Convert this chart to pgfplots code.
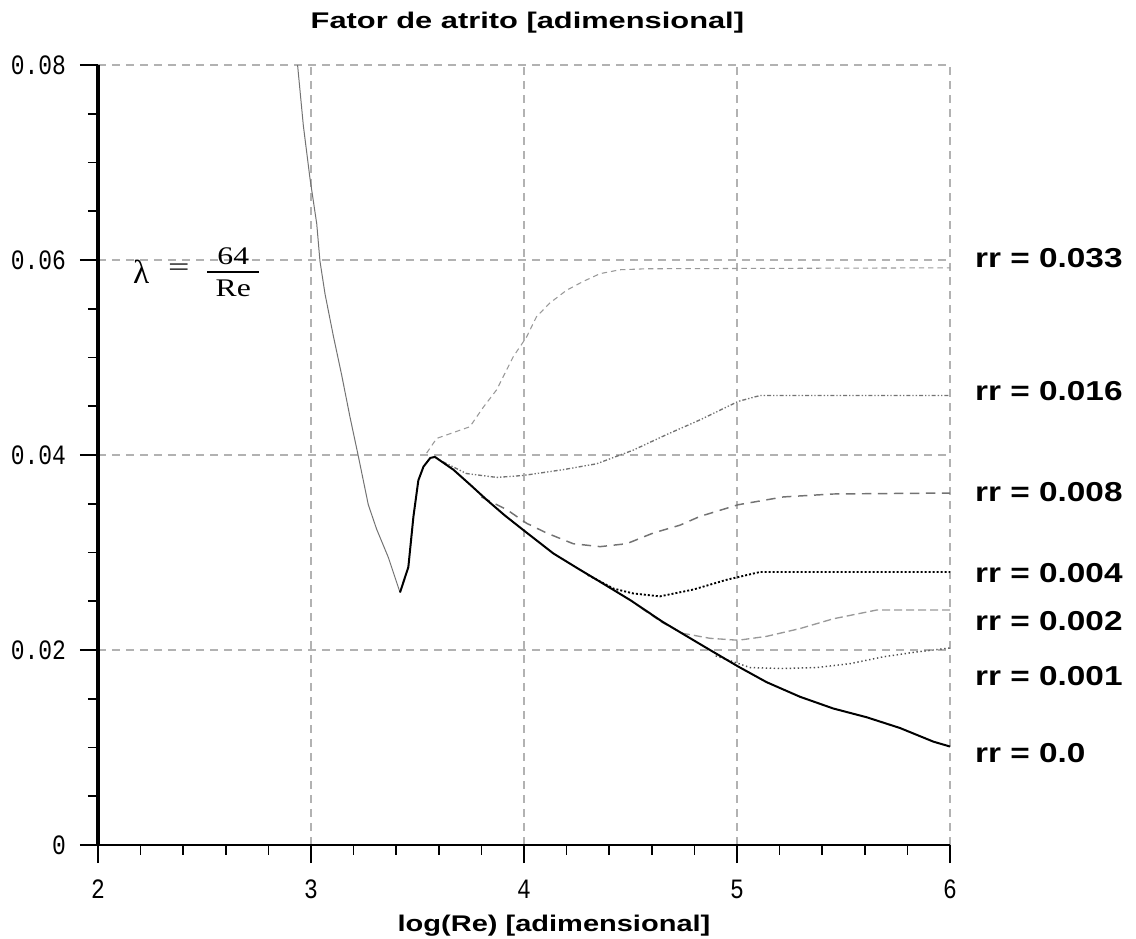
\documentclass[border=0pt]{standalone}
\usepackage{pgfplots}
\pgfplotsset{compat=1.18}
\usepackage{graphicx}
\usepackage{fontspec}
\setmainfont{Liberation Sans}
\newfontfamily\monofont{Liberation Mono}
\newfontfamily\seriffont{Liberation Serif}
\newcommand\tl[1]{\scalebox{0.82}[1]{#1}}
\begin{document}
\begin{tikzpicture}
\begin{axis}[
  at={(0,0)}, anchor=south west,
  scale only axis,
  width=639pt, height=585pt,
  xmin=2, xmax=6, ymin=0, ymax=0.08,
  axis lines=left,
  axis line style={-},
  x axis line style={line width=1.1pt},
  y axis line style={line width=2.3pt},
  tick align=outside,
  major tick length=13.5pt,
  minor tick length=7.5pt,
  every tick/.style={black, line width=1.2pt},
  xtick={2,3,4,5,6},
  xticklabels={\tl{2},\tl{3},\tl{4},\tl{5},\tl{6}},
  minor x tick num=4,
  ytick={0,0.02,0.04,0.06,0.08},
  yticklabels={\tl{0},\tl{0.02},\tl{0.04},\tl{0.06},\tl{0.08}},
  minor y tick num=3,
  scaled y ticks=false,
  tick label style={font=\fontsize{21}{24}\monofont},
  yticklabel style={xshift=-7pt},
  xticklabel style={yshift=-9pt},
  grid=major,
  grid style={black!30, line width=1pt, dash pattern=on 6pt off 4.5pt},
  clip=false,
]
% laminar branch
\addplot[black!55, line width=0.75pt] coordinates {
(2.937,0.0800) (2.964,0.0738) (2.995,0.0684) (3.027,0.0637) (3.042,0.0599)
(3.066,0.0565) (3.105,0.0522) (3.144,0.0482) (3.183,0.0439) (3.222,0.0399)
(3.269,0.0349) (3.308,0.0324) (3.363,0.0295) (3.418,0.0259)
};
% rr = 0.033
\addplot[black!40, line width=0.8pt, dash pattern=on 4pt off 3pt] coordinates {
(3.543,0.0402) (3.590,0.0417) (3.668,0.0423) (3.746,0.0429) (3.809,0.0449)
(3.872,0.0467) (3.950,0.0501) (4.012,0.0521) (4.059,0.0542) (4.122,0.0556)
(4.200,0.0569) (4.278,0.0578) (4.357,0.0586) (4.451,0.0590) (4.576,0.0591)
(6.000,0.0592)
};
% rr = 0.016
\addplot[black!55, line width=1pt, dash pattern=on 3pt off 1.5pt on 1pt off 1.5pt on 1pt off 1.5pt] coordinates {
(3.620,0.0393) (3.730,0.0381) (3.872,0.0377) (3.997,0.0379) (4.185,0.0385)
(4.341,0.0391) (4.513,0.0405) (4.670,0.0421) (4.826,0.0436) (5.006,0.0455)
(5.108,0.0461) (6.000,0.0461)
};
% rr = 0.008
\addplot[black!55, line width=1.1pt, dash pattern=on 7pt off 5pt] coordinates {
(3.800,0.0357) (3.919,0.0344) (4.012,0.0330) (4.106,0.0320) (4.231,0.0309)
(4.357,0.0306) (4.482,0.0309) (4.607,0.0320) (4.732,0.0328) (4.826,0.0337)
(5.006,0.0349) (5.218,0.0357) (5.452,0.0360) (6.000,0.0361)
};
% rr = 0.004
\addplot[black, line width=1.4pt, dash pattern=on 1.5pt off 1.5pt] coordinates {
(4.300,0.0277) (4.420,0.0263) (4.513,0.0258) (4.638,0.0255) (4.795,0.0262)
(4.951,0.0272) (5.108,0.0280) (6.000,0.0280)
};
% rr = 0.002
\addplot[black!40, line width=1pt, dash pattern=on 6pt off 3pt] coordinates {
(4.550,0.0243) (4.650,0.0228) (4.748,0.0217) (4.873,0.0212) (5.006,0.0210)
(5.139,0.0214) (5.296,0.0222) (5.452,0.0232) (5.656,0.0241) (6.000,0.0241)
};
% rr = 0.001
\addplot[black!70, line width=1.1pt, dash pattern=on 1pt off 2pt] coordinates {
(4.900,0.0194) (4.982,0.0188) (5.061,0.0182) (5.218,0.0181) (5.374,0.0182)
(5.531,0.0186) (5.687,0.0193) (5.843,0.0198) (6.000,0.0202)
};
% rr = 0 (smooth pipe) incl. transition
\addplot[black, line width=1.5pt] coordinates {
(3.418,0.0259) (3.457,0.0285) (3.481,0.0337) (3.504,0.0374) (3.528,0.0388)
(3.560,0.0397) (3.582,0.0398) (3.668,0.0385) (3.750,0.0369) (3.825,0.0354)
(3.910,0.0338) (3.997,0.0323) (4.138,0.0299) (4.250,0.0284) (4.357,0.0270)
(4.500,0.0251) (4.650,0.0229) (4.850,0.0203) (5.006,0.0183) (5.139,0.0167)
(5.296,0.0152) (5.452,0.0140) (5.609,0.0131) (5.765,0.0120) (5.922,0.0106)
(6.000,0.0101)
};
% labels
\node[anchor=base] at (axis cs:4.016,0.08379) {\scalebox{1.36}[1]{\fontsize{17}{20}\selectfont\bfseries Fator de atrito [adimensional]}};
\node[anchor=base] at (axis cs:4.141,-0.00889) {\scalebox{1.28}[1]{\fontsize{17}{20}\selectfont\bfseries log(Re) [adimensional]}};
\node[anchor=base west, inner sep=0pt] at (axis cs:6.117,0.05918) {\scalebox{1.22}[1]{\fontsize{20.5}{24}\selectfont\bfseries rr = 0.033}};
\node[anchor=base west, inner sep=0pt] at (axis cs:6.117,0.04564) {\scalebox{1.22}[1]{\fontsize{20.5}{24}\selectfont\bfseries rr = 0.016}};
\node[anchor=base west, inner sep=0pt] at (axis cs:6.117,0.03518) {\scalebox{1.22}[1]{\fontsize{20.5}{24}\selectfont\bfseries rr = 0.008}};
\node[anchor=base west, inner sep=0pt] at (axis cs:6.117,0.02697) {\scalebox{1.22}[1]{\fontsize{20.5}{24}\selectfont\bfseries rr = 0.004}};
\node[anchor=base west, inner sep=0pt] at (axis cs:6.117,0.02195) {\scalebox{1.22}[1]{\fontsize{20.5}{24}\selectfont\bfseries rr = 0.002}};
\node[anchor=base west, inner sep=0pt] at (axis cs:6.117,0.01641) {\scalebox{1.22}[1]{\fontsize{20.5}{24}\selectfont\bfseries rr = 0.001}};
\node[anchor=base west, inner sep=0pt] at (axis cs:6.117,0.00851) {\scalebox{1.22}[1]{\fontsize{20.5}{24}\selectfont\bfseries rr = 0.0}};
\node[anchor=west, inner sep=0pt] at (axis cs:2.164,0.05877) {$\vcenter{\hbox{\fontsize{25}{28}\seriffont λ}}$\hspace{14pt}\scalebox{1.5}[1]{\fontsize{19}{22}\seriffont =}\hspace{12pt}\scalebox{1.25}[1]{$\displaystyle{\hbox to 31pt{\hss\fontsize{19}{22}\seriffont 64\hss}\above 1.6pt\hbox to 31pt{\hss\fontsize{19}{22}\seriffont Re\hss}}$}};
\coordinate (A) at (rel axis cs:0,0);
\end{axis}
\pgfresetboundingbox
\path[use as bounding box] ([xshift=-73.5pt,yshift=-70.5pt]A) rectangle ([xshift=778.5pt,yshift=633.75pt]A);
\end{tikzpicture}
\end{document}
